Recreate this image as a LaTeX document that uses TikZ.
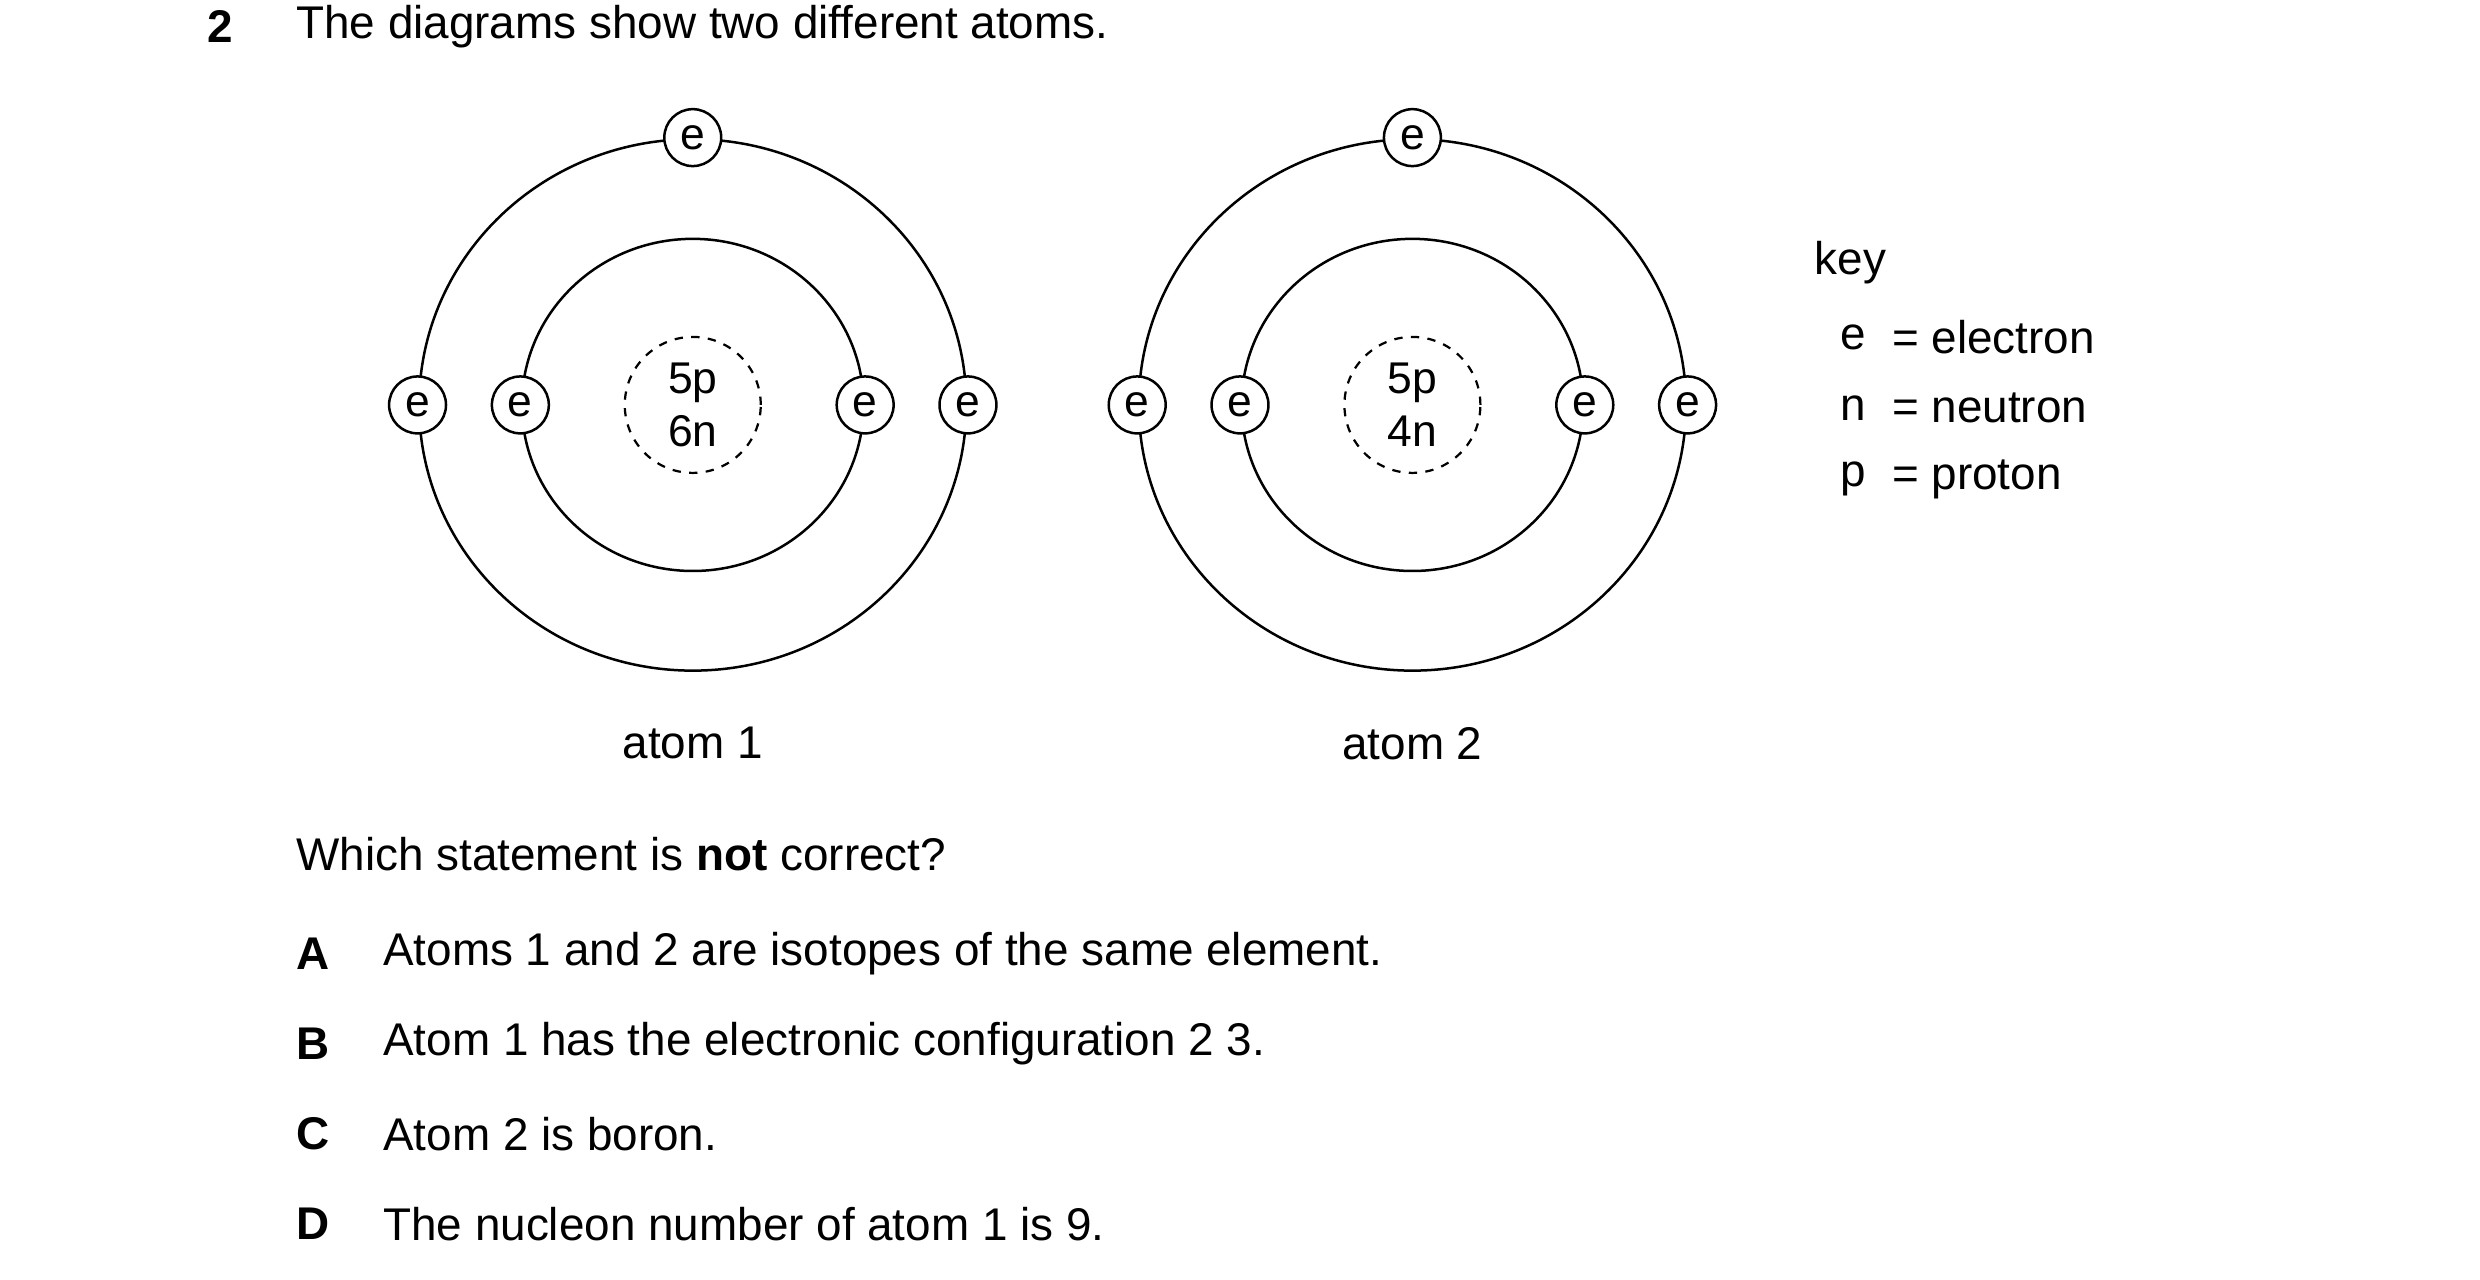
\documentclass[tikz,border=0pt]{standalone}
\usepackage{fontspec}
\setmainfont{Liberation Sans}
\usetikzlibrary{positioning}
\tikzset{
  orbit/.style={draw,line width=0.9pt},
  electron/.style={circle,draw,line width=0.9pt,fill=white,minimum size=0.72cm,inner sep=0pt,font=\fontsize{16}{18}\selectfont},
  nucleus/.style={circle,draw,dashed,line width=0.8pt,minimum size=1.72cm,inner sep=0pt,align=center,font=\fontsize{16}{19}\selectfont},
  txt/.style={anchor=west,inner sep=0pt,font=\fontsize{16.5}{19}\selectfont},
}
\begin{document}
\begin{tikzpicture}[x=0.02cm,y=-0.02cm]
  \useasboundingbox (0,0) rectangle (1568,809);
  %% question
  \node[txt,font=\fontsize{16.5}{19}\selectfont\bfseries] (qnum) at (131,17) {2};
  \node[txt] (qtext) at (187,17) {The diagrams show two different atoms.};
  %% atoms
  \foreach \cx/\n/\nn in {438/1/6n, 893/2/4n} {
    \draw[orbit] (\cx,256) circle[x radius=173,y radius=168];
    \draw[orbit] (\cx,256) circle[x radius=108,y radius=105];
    \node[nucleus] (nuc\n) at (\cx,256) {5p\\\nn};
    \node[electron] (top\n) at (\cx,87) {e};
    \node[electron] (ol\n) at (\cx-174,256) {e};
    \node[electron] (il\n) at (\cx-109,256) {e};
    \node[electron] (ir\n) at (\cx+109,256) {e};
    \node[electron] (or\n) at (\cx+174,256) {e};
    \node[txt,anchor=center] (lab\n) at (\cx,470) {atom \n};
  }
  %% key
  \node[txt] (key) at (1147,166) {key};
  \foreach \y/\s/\w in {213/e/electron, 258/n/neutron, 303/p/proton} {
    \node[txt,anchor=center] (k\s) at (1172,\y) {\s};
    \node[txt] (kw\s) at (1196,\y) {= \w};
  }
  %% options
  \node[txt] (which) at (187,540) {Which statement is \textbf{not} correct?};
  \foreach \y/\l/\t in {603/A/{Atoms 1 and 2 are isotopes of the same element.},
                        660/B/{Atom 1 has the electronic configuration 2 3.},
                        717/C/{Atom 2 is boron.},
                        774/D/{The nucleon number of atom 1 is 9.}} {
    \node[txt,font=\fontsize{16.5}{19}\selectfont\bfseries] (opt\l) at (187,\y) {\l};
    \node[txt] (ans\l) at (242,\y) {\t};
  }
\end{tikzpicture}
\end{document}
